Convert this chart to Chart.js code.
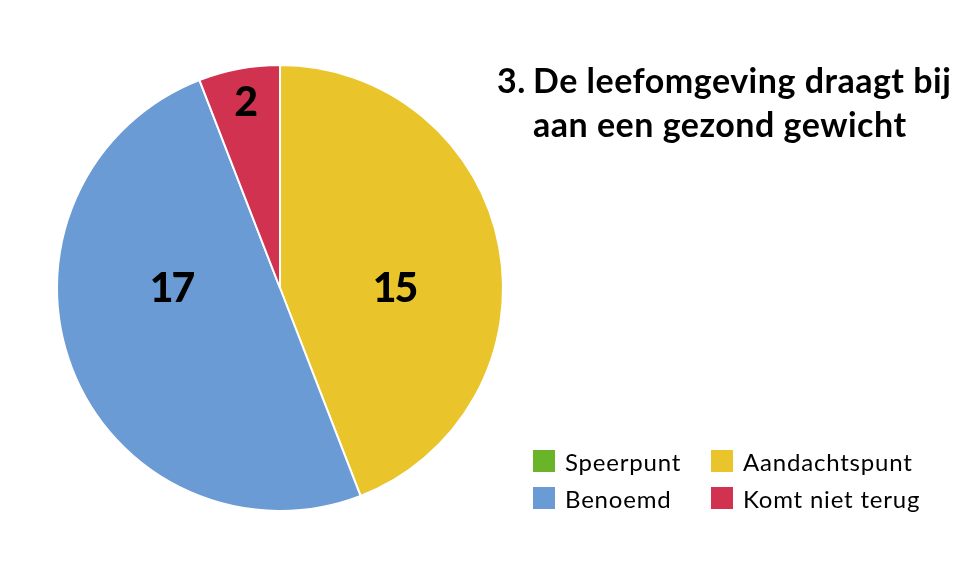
<!DOCTYPE html>
<html>
<head>
<meta charset="utf-8">
<script src="https://cdn.jsdelivr.net/npm/chart.js@4.4.1/dist/chart.umd.min.js"></script>
<style>
  body { margin: 0; background: #fff; font-family: Lato, "Open Sans", sans-serif; }
  #wrap { position: relative; width: 960px; height: 576px; }
  #pieCanvas { position: absolute; left: 0; top: 0; }
  #title { position: absolute; left: 497px; top: 58px; font-size: 34px; font-weight: 700; letter-spacing: 0.5px; line-height: 44px; color: #000; white-space: nowrap; }
  #title .num { display: inline-block; width: 36px; }
  #title .indent { padding-left: 36px; }
  #legend { position: absolute; left: 533px; top: 447px; display: grid; grid-template-columns: 178px 220px; row-gap: 9px; }
  .item { display: flex; align-items: center; font-size: 24px; letter-spacing: 0.8px; height: 28px; color: #000; }
  .box { width: 22px; height: 22px; margin-right: 10px; }
</style>
</head>
<body>
<div id="wrap">
  <canvas id="pieCanvas" width="560" height="576"></canvas>
  <div id="title"><span class="num">3.</span>De leefomgeving draagt bij<br><span class="indent">aan een gezond gewicht</span></div>
  <div id="legend"></div>
</div>
<script>
const categories = ["Speerpunt", "Aandachtspunt", "Benoemd", "Komt niet terug"];
const counts = [0, 15, 17, 2];
const colors = ["#6AB42A", "#E9C42B", "#6A9BD5", "#D03250"];

// legenda opbouwen uit de arrays
const legend = document.getElementById("legend");
categories.forEach((name, i) => {
    const div = document.createElement("div");
    div.className = "item";
    div.innerHTML = `<span class="box" style="background:${colors[i]}"></span>${name}`;
    legend.appendChild(div);
});

// waarden in de taartpunten tekenen
const sliceLabels = {
    id: "sliceLabels",
    afterDatasetsDraw(chart) {
        const ctx = chart.ctx;
        const meta = chart.getDatasetMeta(0);
        const total = counts.reduce((a, b) => a + b, 0);
        ctx.save();
        ctx.fillStyle = "#000";
        ctx.font = "900 41px Lato";
        ctx.letterSpacing = "-2px";
        ctx.textAlign = "center";
        ctx.textBaseline = "middle";
        meta.data.forEach((arc, i) => {
            const v = counts[i];
            if (!v) return;
            const p = arc.getProps(["x", "y", "startAngle", "endAngle", "outerRadius"], true);
            let angle = (p.startAngle + p.endAngle) / 2;
            let r = p.outerRadius * 0.5;
            let dx = 3;
            if (v / total < 0.1) {
                r = p.outerRadius * 0.85;
                dx = 0;
            } else {
                // grote punten: label op de horizontale as als die binnen de punt valt
                for (const a of [0, Math.PI, -Math.PI, 2 * Math.PI]) {
                    if (a > p.startAngle && a < p.endAngle) { angle = a; break; }
                }
            }
            ctx.fillText(String(v), p.x + r * Math.cos(angle) + dx, p.y + r * Math.sin(angle) + 1);
        });
        ctx.restore();
    }
};

new Chart(document.getElementById("pieCanvas"), {
    type: "pie",
    data: {
        labels: categories,
        datasets: [{
            data: counts,
            backgroundColor: colors,
            borderColor: "#fff",
            borderWidth: 2
        }]
    },
    options: {
        responsive: false,
        animation: false,
        layout: { padding: { left: 56, right: 56, top: 63, bottom: 63 } },
        plugins: {
            legend: { display: false },
            tooltip: { enabled: false }
        }
    },
    plugins: [sliceLabels]
});
</script>
</body>
</html>
